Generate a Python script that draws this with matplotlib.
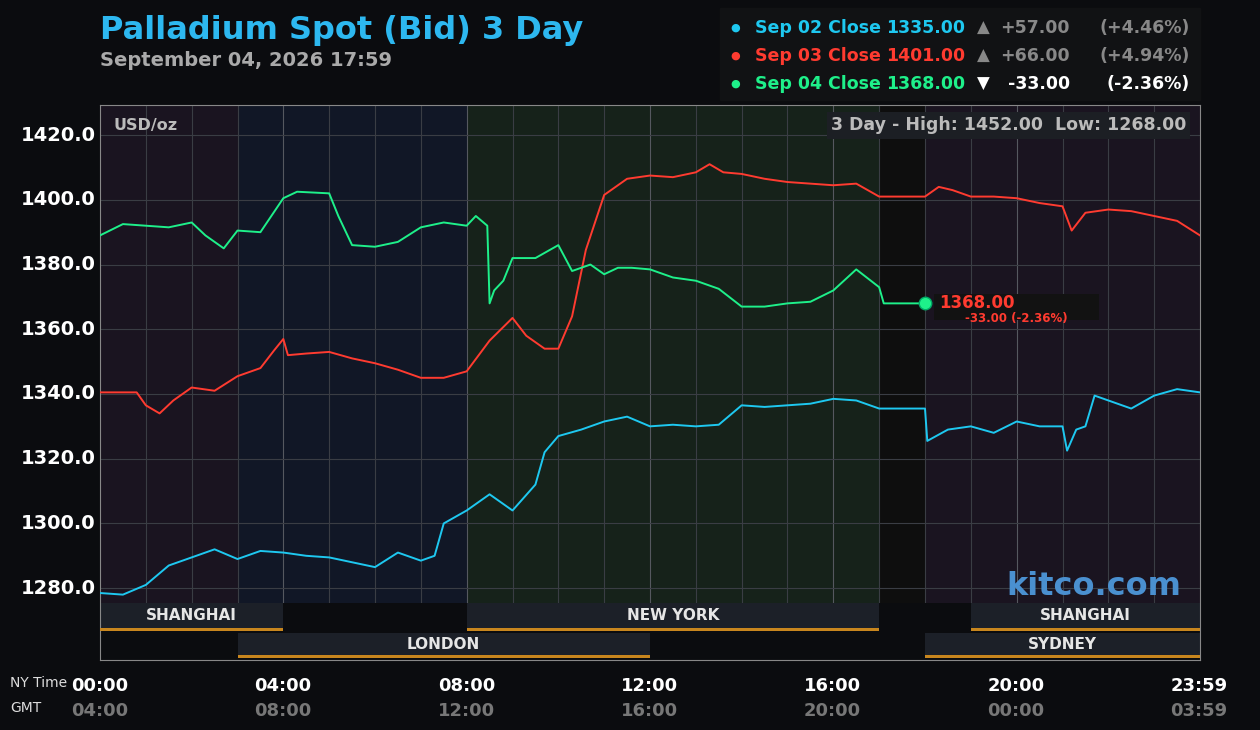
import matplotlib
matplotlib.use("Agg")
import matplotlib.pyplot as plt
from matplotlib.patches import Rectangle

blue_t = [0,0.5,1,1.5,2,2.5,3,3.5,4,4.5,5,5.5,6,6.5,7,7.3,7.5,8,8.5,9,9.5,9.7,10,10.5,11,11.5,12,12.5,13,13.5,14,14.5,15,15.5,16,16.5,17,18,18.05,18.5,19,19.5,20,20.5,21,21.1,21.3,21.5,21.7,22,22.5,23,23.5,24]
blue_v = [1278.5,1278,1281,1287,1289.5,1292,1289,1291.5,1291,1290,1289.5,1288,1286.5,1291,1288.5,1290,1300,1304,1309,1304,1312,1322,1327,1329,1331.5,1333,1330,1330.5,1330,1330.5,1336.5,1336,1336.5,1337,1338.5,1338,1335.5,1335.5,1325.5,1329,1330,1328,1331.5,1330,1330,1322.5,1329,1330,1339.5,1338,1335.5,1339.5,1341.5,1340.5]
red_t = [0,0.8,1,1.3,1.6,2,2.5,3,3.5,3.8,4,4.1,4.5,5,5.5,6,6.5,7,7.5,8,8.5,9,9.3,9.7,10,10.3,10.6,11,11.5,12,12.5,13,13.3,13.6,14,14.5,15,15.5,16,16.5,17,18,18.3,18.6,19,19.5,20,20.5,21,21.2,21.5,22,22.5,23,23.5,24]
red_v = [1340.5,1340.5,1336.5,1334,1338,1342,1341,1345.5,1348,1353.5,1357,1352,1352.5,1353,1351,1349.5,1347.5,1345,1345,1347,1356.5,1363.5,1358,1354,1354,1364,1384.5,1401.5,1406.5,1407.5,1407,1408.5,1411,1408.5,1408,1406.5,1405.5,1405,1404.5,1405,1401,1401,1404,1403,1401,1401,1400.5,1399,1398,1390.5,1396,1397,1396.5,1395,1393.5,1389]
green_t = [0,0.5,1,1.5,2,2.3,2.7,3,3.5,4,4.3,5,5.2,5.5,6,6.5,7,7.5,8,8.2,8.45,8.5,8.6,8.8,9,9.5,10,10.3,10.7,11,11.3,11.6,12,12.5,13,13.5,14,14.5,15,15.5,16,16.5,17,17.1,18]
green_v = [1389,1392.5,1392,1391.5,1393,1389,1385,1390.5,1390,1400.5,1402.5,1402,1395,1386,1385.5,1387,1391.5,1393,1392,1395,1392,1368,1372,1375,1382,1382,1386,1378,1380,1377,1379,1379,1378.5,1376,1375,1372.5,1367,1367,1368,1368.5,1372,1378.5,1373,1368,1368]
hi_lo = (1452.00, 1268.00)
legend_rows = [("Sep 02 Close", "1335.00", "▲", "+57.00", "(+4.46%)", "#1ec8f0"),
               ("Sep 03 Close", "1401.00", "▲", "+66.00", "(+4.94%)", "#ff3b30"),
               ("Sep 04 Close", "1368.00", "▼", "-33.00", "(-2.36%)", "#1ef08a")]
yticks = [1280,1300,1320,1340,1360,1380,1400,1420]
ny_labels = ["00:00","04:00","08:00","12:00","16:00","20:00","23:59"]
gmt_labels = ["04:00","08:00","12:00","16:00","20:00","00:00","03:59"]
label_hours = [0,4,8,12,16,20,24]

BG = "#0b0c0f"
fig = plt.figure(figsize=(12.6,7.3), dpi=100, facecolor=BG)
ax = fig.add_axes([100/1260, 1-660/730, 1100/1260, 555/730])
ax.set_facecolor(BG)
YB, YT = 1257.8, 1429.3
DB = 1275.4
ax.set_xlim(0,24); ax.set_ylim(YB,YT)
for a,b,c in [(0,3,"#1a1420"),(3,8,"#111726"),(8,17,"#16221a"),(17,18,"#0e0e0e"),(18,24,"#1a1420")]:
    ax.add_patch(Rectangle((a,DB),b-a,YT-DB,color=c,zorder=0,lw=0))
for h in range(1,24):
    ax.vlines(h,DB,YT,color="#3a3d44" if h%4 else "#55585f",lw=0.8,zorder=1)
for y in yticks:
    ax.hlines(y,0,24,color="#3a3d44",lw=0.8,zorder=1)
ax.add_patch(Rectangle((0,1266.1),24,DB-1266.1,color="#0b0c0f",zorder=1,lw=0))
for a,b,name,row in [(0,4,"SHANGHAI",0),(8,17,"NEW YORK",0),(19,24,"SHANGHAI",0),(3,12,"LONDON",1),(18,24,"SYDNEY",1)]:
    y0,y1 = (1267.6,DB) if row==0 else (1259.3,1266.1)
    ax.add_patch(Rectangle((a,y0),b-a,y1-y0,color="#1c2028",zorder=2,lw=0))
    ax.add_patch(Rectangle((a,y0-0.9),b-a,0.9,color="#c8861e",zorder=3,lw=0))
    ax.text((a+b)/2,(y0+y1)/2,name,color="#e6e6e6",fontsize=11,fontweight="bold",ha="center",va="center",zorder=4)
ax.plot(blue_t,blue_v,color="#1ec8f0",lw=1.4,zorder=5)
ax.plot(red_t,red_v,color="#ff3b30",lw=1.4,zorder=5)
ax.plot(green_t,green_v,color="#1ef08a",lw=1.4,zorder=5)
ax.plot([18.0],[1368],"o",color="#1ef08a",ms=9,mec="#0a6",zorder=6)
ax.add_patch(Rectangle((18.2,1363),5.4-5.0+3.2,8,color="#121212",zorder=5,lw=0))
ax.text(18.3,1368,"1368.00",color="#ff3b30",fontsize=12,fontweight="bold",va="center",zorder=6)
ax.text(20.0,1363.4,"-33.00 (-2.36%)",color="#ff3b30",fontsize=8.5,fontweight="bold",ha="center",va="center",zorder=6)
ax.set_xticks([]); ax.set_yticks([])
for s in ax.spines.values(): s.set_color("#888")
for y in yticks:
    ax.text(-0.1,y,f"{y:.1f}",color="white",fontsize=14,fontweight="bold",ha="right",va="center",clip_on=False)
ax.text(0.3,1423,"USD/oz",color="#bbb",fontsize=11.5,fontweight="bold",va="center")
ax.text(23.7,1423,f"3 Day - High: {hi_lo[0]:.2f}  Low: {hi_lo[1]:.2f}",color="#bbb",fontsize=12.5,fontweight="bold",ha="right",va="center",
        bbox=dict(facecolor="#1c1f24",edgecolor="none",pad=3))
ax.text(23.6,1280.5,"kitco.com",color="#4a90d0",fontsize=23,fontweight="bold",ha="right",va="center",zorder=6)
for h,n,g in zip(label_hours,ny_labels,gmt_labels):
    x = (100+h/24*1099)/1260
    fig.text(x,1-686/730,n,color="white",fontsize=13,fontweight="bold",ha="center",va="center")
    fig.text(x,1-711/730,g,color="#777",fontsize=13,fontweight="bold",ha="center",va="center")
fig.text(10/1260,1-683/730,"NY Time",color="#ddd",fontsize=10,va="center")
fig.text(10/1260,1-708/730,"GMT",color="#ddd",fontsize=10,va="center")
fig.text(100/1260,1-30/730,"Palladium Spot (Bid) 3 Day",color="#2db8f0",fontsize=23,fontweight="bold",va="center")
fig.text(100/1260,1-60/730,"September 04, 2026 17:59",color="#aaa",fontsize=14,fontweight="bold",va="center")
fig.patches.append(Rectangle((720/1260,1-100/730),480/1260,92/730,transform=fig.transFigure,color="#111214",zorder=0))
for i,(lab,val,arr,ch,pct,c) in enumerate(legend_rows):
    y = 1-(28+i*28)/730
    fig.text(735/1260,y,"●",color=c,fontsize=8,va="center",ha="center")
    fig.text(755/1260,y,lab,color=c,fontsize=12.5,fontweight="bold",va="center")
    fig.text(965/1260,y,val,color=c,fontsize=12.5,fontweight="bold",va="center",ha="right")
    tc = "#888" if i<2 else "white"
    fig.text(983/1260,y,arr,color=tc,fontsize=12,va="center",ha="center")
    fig.text(1070/1260,y,ch,color=tc,fontsize=12.5,fontweight="bold",va="center",ha="right")
    fig.text(1190/1260,y,pct,color=tc,fontsize=12.5,fontweight="bold",va="center",ha="right")
fig.savefig("out.png",dpi=100,facecolor=BG)
